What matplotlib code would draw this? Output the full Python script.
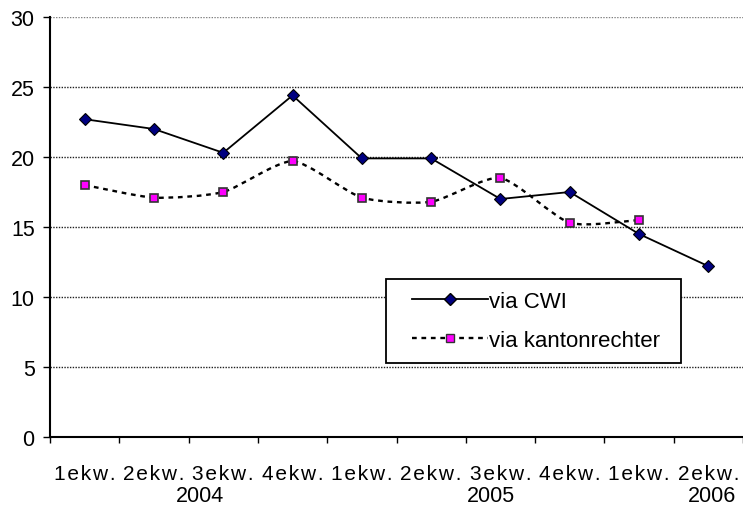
import numpy as np
import matplotlib
matplotlib.use("Agg")
import matplotlib.pyplot as plt
from matplotlib.path import Path
from matplotlib.patches import PathPatch, Rectangle
from matplotlib.lines import Line2D

quarters = ["1ekw.", "2ekw.", "3ekw.", "4ekw.", "1ekw.", "2ekw.", "3ekw.", "4ekw.", "1ekw.", "2ekw."]
years = ["2004", "2005", "2006"]
year_pos = [1.66, 5.86, 9.05]
via_cwi = [22.7, 22.0, 20.3, 24.4, 19.9, 19.9, 17.0, 17.5, 14.5, 12.2]
via_kanton = [18.0, 17.1, 17.5, 19.7, 17.1, 16.8, 18.5, 15.3, 15.5]

plt.rcParams['font.family'] = ['Liberation Sans', 'DejaVu Sans']
FS = 15.5

fig = plt.figure(figsize=(7.43, 5.10), dpi=100)
ax = fig.add_axes([50 / 743, 72 / 510, 693 / 743, 420 / 510])

x = np.arange(len(quarters))

# gridlines
for v in range(5, 31, 5):
    ax.axhline(v, color='#808080' if v == 30 else '#202020', lw=1.0,
               ls=(0, (1, 1)), zorder=1)


def smooth_path(xs, ys, k=1 / 9):
    # smoothed line: cubic bezier segments through the points
    pts = np.column_stack([xs, ys])
    verts = [pts[0]]
    codes = [Path.MOVETO]
    n = len(pts)
    for i in range(n - 1):
        p0 = pts[i - 1] if i > 0 else pts[i]
        p1, p2 = pts[i], pts[i + 1]
        p3 = pts[i + 2] if i + 2 < n else pts[i + 1]
        verts += [p1 + (p2 - p0) * k, p2 - (p3 - p1) * k, p2]
        codes += [Path.CURVE4] * 3
    return Path(verts, codes)


xk = x[:len(via_kanton)]
patch = PathPatch(smooth_path(xk, via_kanton), fill=False, color='black',
                  lw=1.7, ls=(0, (2, 2)), zorder=2)
ax.add_patch(patch)
ax.plot(xk, via_kanton, ls='none', marker='s', ms=6, mfc='#ff00ff',
        mec='#333333', mew=1.2, zorder=3)

ax.plot(x, via_cwi, color='black', lw=1.3, marker='D', ms=6.5,
        mfc='#000080', mec='black', mew=0.8, zorder=4)

ax.set_xlim(-0.5, len(quarters) - 0.5)
ax.set_ylim(0, 30)
ax.set_yticks(range(0, 31, 5))
ax.tick_params(axis='y', direction='out', length=5, width=1, labelsize=FS, pad=6)

ax.set_xticks(np.arange(-0.5, len(quarters), 1))
ax.set_xticklabels([])
ax.tick_params(axis='x', direction='out', length=4.5, width=1)
for i, q in enumerate(quarters):
    spaced = '\u200a'.join(q)
    ax.text(i, -2.6, spaced, ha='center', va='center', fontsize=15)
for yr, p in zip(years, year_pos):
    ax.text(p, -4.15, yr, ha='center', va='center', fontsize=FS)

for s in ['top', 'right']:
    ax.spines[s].set_visible(False)
ax.spines['left'].set_linewidth(1.5)
ax.spines['bottom'].set_linewidth(1.5)

# legend box drawn separately so its padding can match
fig.patches.append(Rectangle((386 / 743, 1 - 364 / 510), 295 / 743, 84 / 510,
                             transform=fig.transFigure, fill=True, fc='white',
                             ec='black', lw=1.3, zorder=5))

handles = [
    Line2D([], [], color='black', lw=1.3, marker='D', ms=6, mfc='#000080', mec='black'),
    Line2D([], [], color='black', lw=1.7, ls=(0, (2, 2)), marker='s', ms=5.5,
           mfc='#ff00ff', mec='#333333'),
]
leg = fig.legend(handles, ['via CWI', 'via kantonrechter'], loc='upper left',
                 bbox_to_anchor=(412 / 743, 1 - 292 / 510), fontsize=16,
                 frameon=False, handlelength=3.4, numpoints=1, labelspacing=0.82,
                 borderpad=0, handletextpad=0.05, borderaxespad=0)
leg.set_zorder(6)

fig.savefig('out.png', dpi=100)
